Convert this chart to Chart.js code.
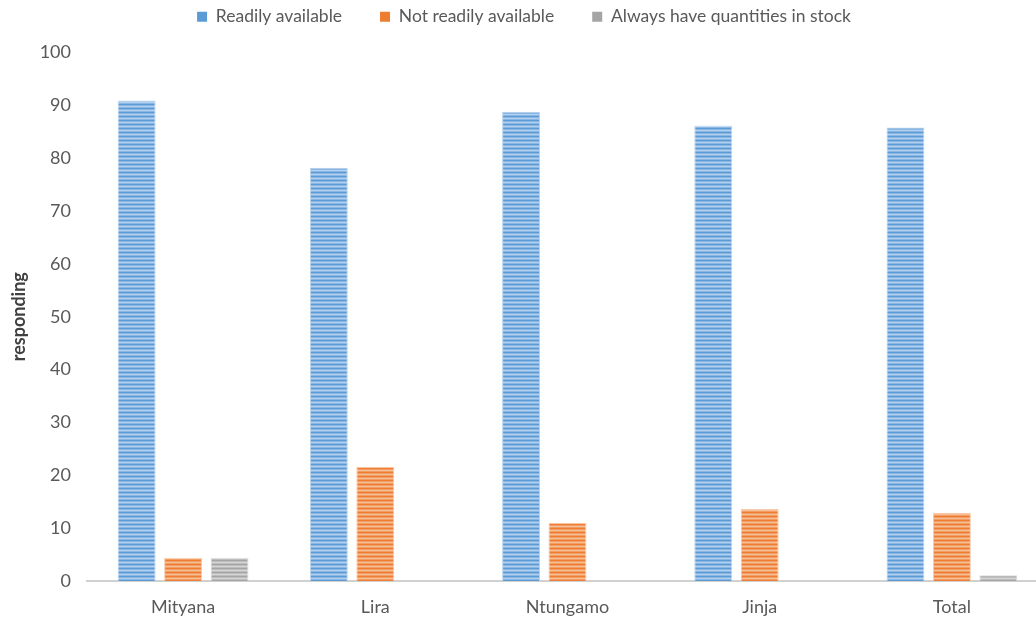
<!DOCTYPE html>
<html><head><meta charset="utf-8">
<script src="https://cdn.jsdelivr.net/npm/chart.js@4.4.0/dist/chart.umd.min.js"></script>
<style>html,body{margin:0;padding:0;background:#fff;overflow:hidden;width:1036px;height:617px}
#wrap{position:relative;width:1048px;height:617px}</style>
</head><body><div id="wrap"><canvas id="c"></canvas></div>
<script>
const categories = ["Mityana", "Lira", "Ntungamo", "Jinja", "Total"];
const seriesNames = ["Readily available", "Not readily available", "Always have quantities in stock"];
const readilyAvailable = [90.9, 78.2, 88.8, 86.2, 85.8];
const notReadilyAvailable = [4.4, 21.6, 11.0, 13.6, 12.9];
const alwaysInStock = [4.4, 0, 0, 0, 1.1];
const yTicks = [0, 10, 20, 30, 40, 50, 60, 70, 80, 90, 100];

function stripes(dark, mid, light) {
  const p = document.createElement('canvas');
  p.width = 4; p.height = 4;
  const g = p.getContext('2d');
  const rows = [dark, mid, light, mid];
  rows.forEach((c, i) => { g.fillStyle = c; g.fillRect(0, i, 4, 1); });
  return g.createPattern(p, 'repeat');
}
const ctx = document.getElementById('c').getContext('2d');
const blue = stripes('#5b9bd5', '#8ab6e3', '#b3cfee');
const orange = stripes('#ed7d31', '#f29d63', '#f7bf98');
const gray = stripes('#a5a5a5', '#bdbdbd', '#d6d6d6');

const legendFitPlugin = {
  id: 'legendFit',
  beforeLayout(chart) {
    const lg = chart.legend;
    if (lg && !lg._wrappedFit) {
      const f = lg.fit.bind(lg);
      lg.fit = function () { f(); this.height += 17; };
      lg._wrappedFit = true;
    }
  }
};

new Chart(ctx, {
  type: 'bar',
  data: {
    labels: categories,
    datasets: [
      { label: seriesNames[0], data: readilyAvailable, backgroundColor: blue, borderColor: '#bcd5ef', borderWidth: {left:1,right:1,top:1,bottom:0}, borderSkipped: 'bottom' },
      { label: seriesNames[1], data: notReadilyAvailable, backgroundColor: orange, borderColor: '#f8c9a8', borderWidth: {left:1,right:1,top:1,bottom:0}, borderSkipped: 'bottom' },
      { label: seriesNames[2], data: alwaysInStock, backgroundColor: gray, borderColor: '#dcdcdc', borderWidth: {left:1,right:1,top:1,bottom:0}, borderSkipped: 'bottom' }
    ]
  },
  options: {
    responsive: true,
    maintainAspectRatio: false,
    animation: false,
    layout: { padding: { left: 0, right: 0, top: -30, bottom: 0 } },
    datasets: { bar: { categoryPercentage: 0.725, barPercentage: 0.817 } },
    plugins: {
      legend: {
        position: 'top',
        labels: {
          boxWidth: 10, boxHeight: 10, color: '#595959',
          font: { family: 'Lato', size: 17.5 },
          padding: 38,
          generateLabels(chart) {
            const cols = ['#5b9bd5', '#ed7d31', '#a5a5a5'];
            return chart.data.datasets.map((d, i) => ({
              text: d.label, fillStyle: cols[i], strokeStyle: cols[i], lineWidth: 0,
              fontColor: '#595959', datasetIndex: i, hidden: false
            }));
          }
        }
      },
      tooltip: { enabled: false }
    },
    scales: {
      x: {
        grid: { display: false, drawTicks: false },
        border: { color: '#d0d0d0', width: 2 },
        ticks: { color: '#595959', font: { family: 'Lato', size: 18 }, padding: 15 },
        afterFit(scale) { scale.height = 36; }
      },
      y: {
        min: 0, max: 100,
        afterBuildTicks(axis) { axis.ticks = yTicks.map(v => ({ value: v })); },
        afterFit(scale) { scale.width = 87; },
        grid: { display: false, drawTicks: false },
        border: { display: false },
        ticks: { color: '#595959', font: { family: 'Lato', size: 18 }, padding: 16 },
        title: { display: true, text: 'responding', color: '#404040', font: { family: 'Lato', size: 18, weight: 'bold' }, padding: { top: 8, bottom: 6 } }
      }
    }
  },
  plugins: [legendFitPlugin]
});
</script></body></html>
